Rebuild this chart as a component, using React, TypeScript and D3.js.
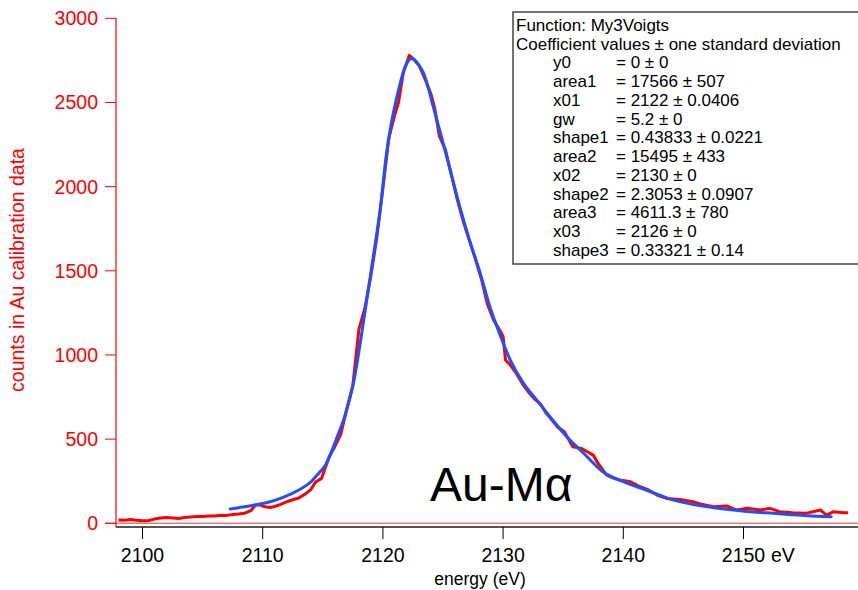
import React from "react";
import * as d3 from "d3";

// measured data (energy eV, counts)
const dataEnergy = [2098.0,2098.5,2099.0,2099.5,2100.0,2100.5,2101.0,2101.5,2102.0,2102.5,2103.0,2103.5,2104.0,2104.5,2105.0,2105.5,2106.0,2106.5,2107.0,2107.5,2108.0,2108.5,2109.0,2109.4,2109.8,2110.2,2110.6,2111.0,2111.5,2112.0,2112.5,2113.0,2113.5,2114.0,2114.4,2114.9,2115.5,2116.0,2116.5,2117.0,2117.5,2118.0,2118.5,2119.0,2119.5,2120.0,2120.5,2121.0,2121.3,2121.7,2122.2,2122.6,2123.0,2123.5,2124.0,2124.3,2124.7,2125.2,2125.7,2126.2,2126.7,2127.2,2127.7,2128.2,2128.7,2129.2,2129.7,2130.0,2130.2,2130.6,2131.1,2131.6,2132.1,2132.6,2133.1,2133.6,2134.1,2134.5,2135.1,2135.8,2136.5,2137.0,2137.5,2137.9,2138.6,2139.1,2139.7,2140.6,2141.4,2142.1,2142.8,2143.6,2144.7,2145.8,2146.4,2147.5,2148.6,2149.4,2150.3,2151.4,2152.2,2153.0,2154.1,2155.2,2156.4,2156.9,2157.5,2158.3,2158.7];
const dataCounts = [20,18,22,18,15,17,25,32,34,31,28,34,38,40,41,43,44,48,47,52,55,60,75,108,108,98,94,100,112,128,140,150,172,200,245,267,390,455,530,680,820,1150,1280,1470,1700,1990,2290,2430,2500,2680,2780,2755,2720,2640,2550,2470,2300,2220,2070,1920,1790,1680,1570,1450,1300,1210,1150,1110,970,940,890,830,780,740,710,653,610,574,544,455,445,425,405,356,287,270,257,247,217,198,168,148,142,128,115,99,103,79,89,79,89,69,63,59,79,49,69,63,62];

// fit curve (My3Voigts)
const fitEnergy = [2107.3,2108.0,2108.9,2110.3,2111.7,2113.0,2114.0,2114.4,2115.3,2116.1,2116.9,2117.6,2118.2,2118.8,2119.2,2119.8,2120.3,2120.7,2121.3,2121.8,2122.4,2122.9,2123.4,2124.2,2124.8,2125.6,2126.4,2127.2,2128.1,2128.9,2129.7,2130.6,2131.7,2132.8,2133.9,2135.3,2136.7,2138.3,2140.0,2141.9,2144.2,2146.9,2149.7,2152.5,2155.3,2157.3];
const fitCounts = [85,93,103,122,154,198,245,277,356,495,653,851,1110,1395,1583,1880,2197,2375,2573,2701,2761,2731,2672,2473,2315,2098,1880,1682,1484,1286,1128,970,831,732,633,514,416,306,247,198,138,99,75,59,45,39];

const xTicks = [2100, 2110, 2120, 2130, 2140, 2150];
const yTicks = [0, 500, 1000, 1500, 2000, 2500, 3000];

const legendTitle = "Function: My3Voigts";
const legendSub = "Coefficient values \u00b1 one standard deviation";
const coefNames = ["y0","area1","x01","gw","shape1","area2","x02","shape2","area3","x03","shape3"];
const coefValues = ["= 0 \u00b1 0","= 17566 \u00b1 507","= 2122 \u00b1 0.0406","= 5.2 \u00b1 0","= 0.43833 \u00b1 0.0221","= 15495 \u00b1 433","= 2130 \u00b1 0","= 2.3053 \u00b1 0.0907","= 4611.3 \u00b1 780","= 2126 \u00b1 0","= 0.33321 \u00b1 0.14"];

const FONT = "'Liberation Sans', Arial, Helvetica, sans-serif";

export default function App() {
  const W = 858, H = 590;
  const left = 116, right = 858, top = 18, bottom = 527;
  const x = d3.scaleLinear().domain([2100, 2150]).range([142.5, 743.5]);
  const y = d3.scaleLinear().domain([0, 3000]).range([523.3, 18.3]);

  const red = dataEnergy.map((e, i) => [e, dataCounts[i]] as [number, number]);
  const blue = fitEnergy.map((e, i) => [e, fitCounts[i]] as [number, number]);
  const lineLin = d3.line<[number, number]>().x(d => x(d[0])).y(d => y(d[1]));
  const lineSmooth = d3.line<[number, number]>().x(d => x(d[0])).y(d => y(d[1])).curve(d3.curveMonotoneX);

  const lgX = 513, lgY = 12, lgLine = 18.75, lgFirst = 25;
  const lgFont = 17;

  return (
    <svg width={W} height={H} style={{ position: "absolute", left: 0, top: 0, background: "#fff" }} fontFamily={FONT}>
      {/* zero line */}
      <line x1={105} x2={right} y1={y(0)} y2={y(0)} stroke="#f27a7a" strokeWidth={1.6} />
      {/* x axis */}
      <line x1={left} x2={right} y1={bottom} y2={bottom} stroke="#555" strokeWidth={2} />
      {xTicks.map(t => (
        <g key={t}>
          <line x1={x(t)} x2={x(t)} y1={bottom} y2={bottom + 12} stroke="#000" strokeWidth={1} />
          <text x={x(t)} y={562} fontSize={19.5} textAnchor="middle" fill="#000">{String(t)}</text>
          {t === 2150 && <text x={x(t) + 22} y={562} fontSize={19.5} fill="#000">{"\u00a0eV"}</text>}
        </g>
      ))}
      <text x={480} y={585} fontSize={17.5} textAnchor="middle" fill="#000">energy (eV)</text>
      {/* y axis */}
      <line x1={left} x2={left} y1={top} y2={bottom} stroke="#ff0000" strokeWidth={1.2} />
      {yTicks.map(t => (
        <g key={t}>
          <line x1={105} x2={left} y1={y(t)} y2={y(t)} stroke="#ff0000" strokeWidth={1} />
          <text x={98} y={y(t)} dy="0.36em" fontSize={19.5} textAnchor="end" fill="#ff0000">{String(t)}</text>
        </g>
      ))}
      <text transform={`translate(24,270) rotate(-90)`} fontSize={19.5} textAnchor="middle" fill="#ff0000">counts in Au calibration data</text>
      {/* curves */}
      <path d={lineLin(red) || ""} fill="none" stroke="#ff0000" strokeWidth={3} strokeLinejoin="round" />
      <path d={lineSmooth(blue) || ""} fill="none" stroke="#1f50ff" strokeWidth={3} strokeLinejoin="round" strokeLinecap="round" />
      {/* annotation */}
      <text x={430} y={501} fontSize={48} fill="#000">Au-M{"\u03b1"}</text>
      {/* legend */}
      <rect x={lgX} y={lgY} width={360} height={252} fill="#fff" stroke="#444" strokeWidth={1.5} />
      <text x={lgX + 3} y={lgFirst} dy="0.35em" fontSize={lgFont} fill="#000">{legendTitle}</text>
      <text x={lgX + 3} y={lgFirst + lgLine} dy="0.35em" fontSize={lgFont} fill="#000">{legendSub}</text>
      {coefNames.map((n, i) => (
        <g key={n}>
          <text x={553} y={lgFirst + lgLine * (i + 2)} dy="0.35em" fontSize={lgFont} fill="#000">{n}</text>
          <text x={616} y={lgFirst + lgLine * (i + 2)} dy="0.35em" fontSize={lgFont} fill="#000">{coefValues[i]}</text>
        </g>
      ))}
    </svg>
  );
}
